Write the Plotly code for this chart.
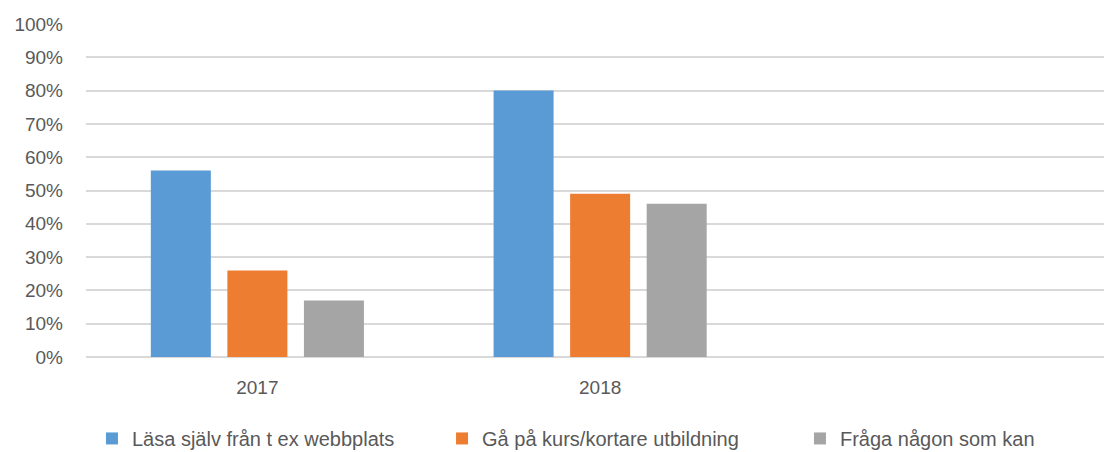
import plotly.graph_objects as go

categories = ["2017", "2018", " "]
series_names = ["Läsa själv från t ex webbplats", "Gå på kurs/kortare utbildning", "Fråga någon som kan"]
läsa = [0.56, 0.80, None]
kurs = [0.26, 0.49, None]
fråga = [0.17, 0.46, None]
colors = ["#5B9BD5", "#ED7D31", "#A5A5A5"]
y_ticks = [i / 10 for i in range(11)]

font_family = "Liberation Sans, Arial, sans-serif"
legend_ids = ["legend", "legend2", "legend3"]
legend_x = [0.0833, 0.4004, 0.7246]

fig = go.Figure()
for name, vals, col, lid in zip(series_names, [läsa, kurs, fråga], colors, legend_ids):
    fig.add_trace(go.Bar(x=categories, y=vals, name=name, legend=lid,
                         marker=dict(color=col, line=dict(width=0))))

legend_common = dict(orientation="h", xref="container", xanchor="left",
                     yref="container", y=0.03, yanchor="middle",
                     font=dict(family=font_family, size=20, color="#595959"),
                     bgcolor="rgba(0,0,0,0)", borderwidth=0)

fig.update_layout(
    template="none",
    width=1104, height=452,
    margin=dict(l=86, r=0, t=24, b=95, autoexpand=False),
    paper_bgcolor="white", plot_bgcolor="white",
    barmode="group", bargap=0.33, bargroupgap=0.216,
    font=dict(family=font_family, size=19, color="#595959"),
    showlegend=True,
    legend=dict(x=legend_x[0], **legend_common),
    legend2=dict(x=legend_x[1], **legend_common),
    legend3=dict(x=legend_x[2], **legend_common),
)
fig.update_xaxes(type="category", range=[-0.5, 2.47], showgrid=False, showline=False,
                 zeroline=False, ticks="", ticklabelstandoff=17, fixedrange=True,
                 automargin=False)
fig.update_yaxes(range=[0, 1], tickvals=y_ticks, tickformat=".0%", showgrid=True,
                 gridcolor="#D9D9D9", gridwidth=1.5, zeroline=True, zerolinecolor="#D9D9D9",
                 zerolinewidth=1.5, showline=False, ticks="", ticklabelstandoff=22,
                 fixedrange=True, automargin=False)

fig.write_html("out.html", config={"displayModeBar": False},
               post_script="document.body.style.margin='0';")
